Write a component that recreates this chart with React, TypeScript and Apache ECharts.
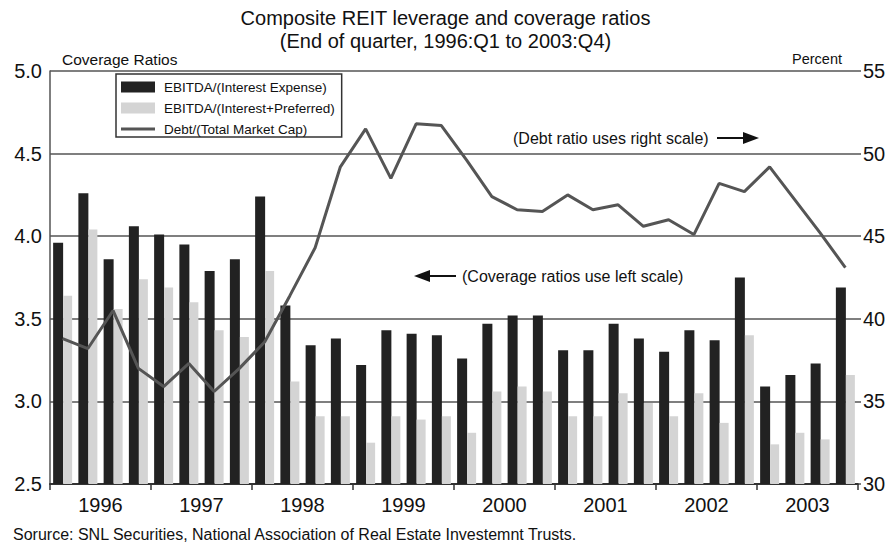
import React, { useEffect, useRef } from "react";
import * as echarts from "echarts";

const quarters: string[] = [];
const years = ["1996", "1997", "1998", "1999", "2000", "2001", "2002", "2003"];
for (const y of years) for (const q of ["Q1", "Q2", "Q3", "Q4"]) quarters.push(`${y}:${q}`);

const interestCoverage = [
  3.96, 4.26, 3.86, 4.06, 4.01, 3.95, 3.79, 3.86,
  4.24, 3.58, 3.34, 3.38, 3.22, 3.43, 3.41, 3.40,
  3.26, 3.47, 3.52, 3.52, 3.31, 3.31, 3.47, 3.38,
  3.30, 3.43, 3.37, 3.75, 3.09, 3.16, 3.23, 3.69,
];
const preferredCoverage = [
  3.64, 4.04, 3.56, 3.74, 3.69, 3.60, 3.43, 3.39,
  3.79, 3.12, 2.91, 2.91, 2.75, 2.91, 2.89, 2.91,
  2.81, 3.06, 3.09, 3.06, 2.91, 2.91, 3.05, 2.99,
  2.91, 3.05, 2.87, 3.40, 2.74, 2.81, 2.77, 3.16,
];
const debtRatio = [
  38.8, 38.2, 40.5, 37.0, 35.9, 37.3, 35.6, 37.0,
  38.6, 41.4, 44.3, 49.2, 51.5, 48.5, 51.8, 51.7,
  49.6, 47.4, 46.6, 46.5, 47.5, 46.6, 46.9, 45.6,
  46.0, 45.1, 48.2, 47.7, 49.2, 47.2, 45.2, 43.1,
];

const leftTicks = { min: 2.5, max: 5.0, interval: 0.5 };
const rightTicks = { min: 30, max: 55, interval: 5 };

const FONT = "'Liberation Sans', Arial, Helvetica, sans-serif";
const INK = "#111";
const GRID = "#555";

export default function App() {
  const ref = useRef<HTMLDivElement>(null);
  useEffect(() => {
    document.body.style.margin = "0";
    if (!ref.current) return;
    const chart = echarts.init(ref.current, undefined, { renderer: "svg" });
    chart.setOption({
      animation: false,
      backgroundColor: "#fff",
      textStyle: { fontFamily: FONT },
      grid: { left: 50, right: 33, top: 71, bottom: 59 },
      legend: {
        orient: "vertical",
        left: 116,
        top: 74,
        itemWidth: 34,
        itemHeight: 11,
        itemGap: 7,
        padding: [6, 7, 1, 5],
        borderColor: "#333",
        borderWidth: 1.5,
        backgroundColor: "#fff",
        textStyle: { fontSize: 13.5, color: INK, fontFamily: FONT, padding: [0, 0, 0, 4] },
        data: [
          { name: "EBITDA/(Interest Expense)", icon: "rect" },
          { name: "EBITDA/(Interest+Preferred)", icon: "rect" },
          { name: "Debt/(Total Market Cap)", icon: "path://M0,0 M0,11 M0,4 L34,4 L34,7 L0,7 Z" },
        ],
      },
      xAxis: [
        {
          type: "category",
          data: quarters,
          boundaryGap: true,
          axisLine: { show: true, lineStyle: { color: "#333", width: 2 } },
          axisTick: { show: true, interval: 3, length: 6, lineStyle: { color: "#333", width: 1.5 } },
          axisLabel: { show: false },
          splitLine: { show: false },
        },
        {
          type: "category",
          data: years,
          position: "bottom",
          boundaryGap: true,
          axisLine: { show: false },
          axisTick: { show: false },
          axisLabel: { fontSize: 20, color: INK, margin: 11, fontFamily: FONT },
          splitLine: { show: false },
        },
      ],
      yAxis: [
        {
          type: "value",
          ...leftTicks,
          axisLine: { show: true, lineStyle: { color: GRID, width: 1.5 } },
          axisTick: { show: false },
          axisLabel: {
            fontSize: 20,
            color: INK,
            margin: 8,
            fontFamily: FONT,
            formatter: (v: number) => v.toFixed(1),
          },
          splitLine: { show: true, lineStyle: { color: GRID, width: 1.5 } },
        },
        {
          type: "value",
          position: "right",
          ...rightTicks,
          axisLine: { show: false },
          axisTick: { show: true, length: 3, lineStyle: { color: GRID, width: 1.5 } },
          axisLabel: { fontSize: 20, color: INK, margin: 5, fontFamily: FONT },
          splitLine: { show: false },
        },
      ],
      series: [
        {
          name: "EBITDA/(Interest Expense)",
          type: "bar",
          data: interestCoverage,
          barWidth: 10,
          barGap: "0%",
          itemStyle: { color: "#222" },
          z: 2,
        },
        {
          name: "EBITDA/(Interest+Preferred)",
          type: "bar",
          data: preferredCoverage,
          barWidth: 9,
          barGap: "0%",
          itemStyle: { color: "#d4d4d4" },
          z: 2,
        },
        {
          name: "Debt/(Total Market Cap)",
          type: "line",
          yAxisIndex: 1,
          data: debtRatio,
          symbol: "none",
          lineStyle: { color: "#555", width: 3 },
          itemStyle: { color: "#555" },
          z: 5,
        },
      ],
      graphic: [
        {
          type: "text",
          left: "center",
          top: 6,
          style: {
            text: "Composite REIT leverage and coverage ratios\n(End of quarter, 1996:Q1 to 2003:Q4)",
            font: `20px ${FONT}`,
            fill: INK,
            textAlign: "center",
            lineHeight: 23,
          },
        },
        {
          type: "text",
          x: 62,
          y: 59,
          style: { text: "Coverage Ratios", font: `15.5px ${FONT}`, fill: INK, textVerticalAlign: "middle" },
        },
        {
          type: "text",
          x: 842,
          y: 59,
          style: { text: "Percent", font: `14.5px ${FONT}`, fill: INK, textAlign: "right", textVerticalAlign: "middle" },
        },
        {
          type: "text",
          x: 513,
          y: 138,
          style: { text: "(Debt ratio uses right scale)", font: `16px ${FONT}`, fill: INK, textVerticalAlign: "middle" },
        },
        { type: "line", shape: { x1: 717, y1: 138, x2: 745, y2: 138 }, style: { stroke: "#111", lineWidth: 2 } },
        { type: "polygon", shape: { points: [[743, 132], [759, 138], [743, 144]] }, style: { fill: "#111" } },
        {
          type: "text",
          x: 462,
          y: 276,
          style: { text: "(Coverage ratios use left scale)", font: `16px ${FONT}`, fill: INK, textVerticalAlign: "middle" },
        },
        { type: "line", shape: { x1: 428, y1: 276, x2: 456, y2: 276 }, style: { stroke: "#111", lineWidth: 2 } },
        { type: "polygon", shape: { points: [[414, 276], [430, 270], [430, 282]] }, style: { fill: "#111" } },
        {
          type: "text",
          x: 13,
          y: 534,
          style: {
            text: "Sorurce: SNL Securities, National Association of Real Estate Investemnt Trusts.",
            font: `16px ${FONT}`,
            fill: INK,
            textVerticalAlign: "middle",
          },
        },
      ],
    });
    return () => chart.dispose();
  }, []);
  return <div ref={ref} style={{ width: 891, height: 543 }} />;
}
